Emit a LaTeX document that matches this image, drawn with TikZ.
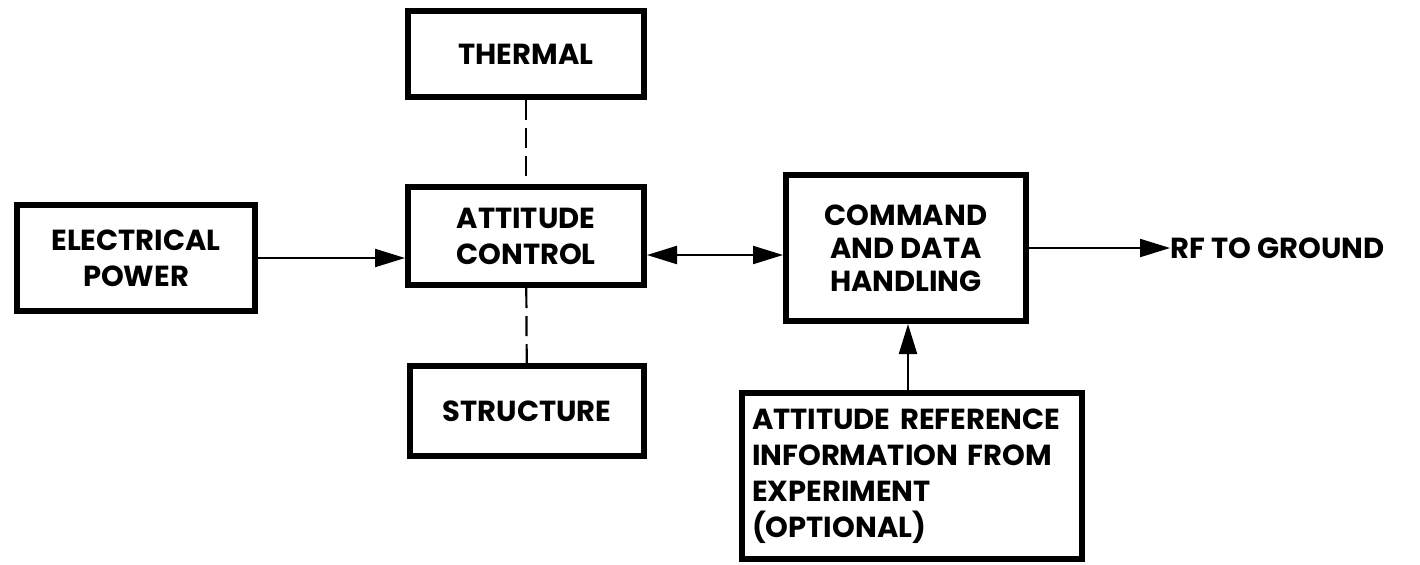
\documentclass[tikz,border=0pt]{standalone}
\usepackage{fontspec}
\setmainfont{Poppins}
\usetikzlibrary{arrows.meta}

\begin{document}
\begin{tikzpicture}[
  x=0.5pt,y=-0.5pt,
  >={Triangle[length=15pt,width=9pt]},
  blk/.style={draw,line width=3pt,align=center,inner sep=2pt,font=\fontsize{14.5}{18}\selectfont\bfseries},
  refbox/.style={draw,line width=3pt,align=left,inner xsep=5pt,inner ysep=0pt,text width=160pt,font=\fontsize{14.5}{18}\selectfont\bfseries},
  lnk/.style={line width=1.1pt},
  dsh/.style={line width=1.1pt,dash pattern=on 10pt off 4pt}
]
\useasboundingbox (0,0) rectangle (1420,564);
\node[blk,minimum width=119pt,minimum height=53pt] (elec) at (136,258) {ELECTRICAL\\ POWER};
\node[blk,minimum width=118pt,minimum height=43pt] (therm) at (526,54) {THERMAL};
\node[blk,minimum width=118pt,minimum height=49pt] (att) at (526,236) {ATTITUDE\\ CONTROL};
\node[blk,minimum width=117pt,minimum height=45pt] (struct) at (527,411) {STRUCTURE};
\node[blk,minimum width=120pt,minimum height=73pt,font=\fontsize{14.5}{16.5}\selectfont\bfseries] (cmd) at (906,248) {COMMAND\\ AND DATA\\ HANDLING};
\node[refbox,minimum width=169pt,minimum height=83pt] (ref) at (912,476) {ATTITUDE REFERENCE\\ INFORMATION FROM\\ EXPERIMENT\\ (OPTIONAL)};
\node[font=\fontsize{14.5}{18}\selectfont\bfseries,anchor=west,inner sep=0pt] (rf) at (1170,248) {RF TO GROUND};
% links
\draw[lnk,->] (elec.east |- 0,258) -- (att.west |- 0,258);
\draw[lnk,<->] (att.east |- 0,255) -- (cmd.west |- 0,255);
\draw[lnk,->] (cmd) -- (rf);
\draw[lnk,->] (ref.north -| 908,0) -- (cmd.south -| 908,0);
\draw[dsh] (therm) -- (att);
\draw[dsh] (att) -- (struct);
\end{tikzpicture}
\end{document}
